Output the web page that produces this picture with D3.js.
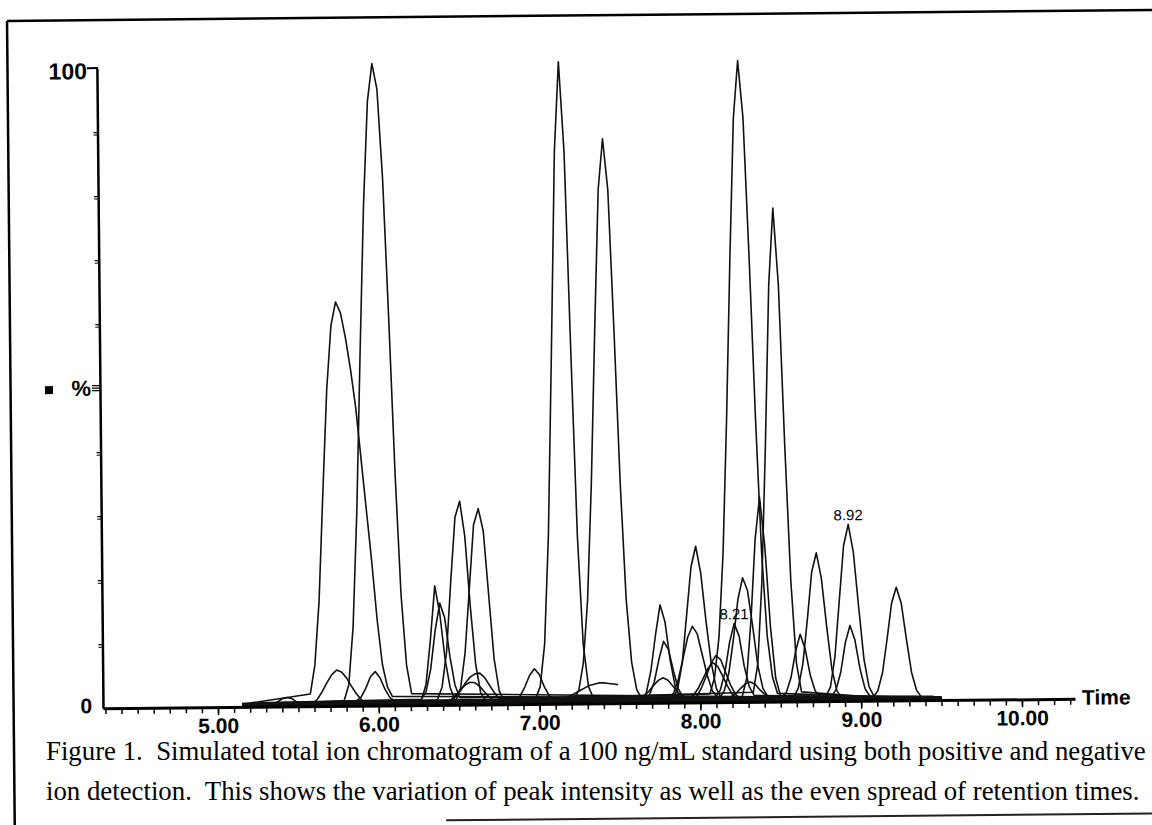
<!DOCTYPE html>
<html>
<head>
<meta charset="utf-8">
<script src="https://cdn.jsdelivr.net/npm/d3@7"></script>
<style>
  body { margin: 0; background: #fff; }
  svg { display: block; }
</style>
</head>
<body>
<div id="chart"></div>
<script>
// SCAN DATA (intensity in %, one scan every 0.03 min)
const scanStep = 0.03;

// first scan time of each peak
const peakStart = [
  5.31, 5.575, 5.59, 5.785, 5.86, 6.265, 6.265, 6.365, 6.48, 6.45, 6.42,
  6.85, 6.975, 7.215, 7.16, 7.635, 7.655, 7.62, 7.83, 7.805, 7.95, 7.93,
  8.095, 8.06, 8.12, 8.26, 8.33, 8.505, 8.58, 8.78, 8.815, 9.075, 8.19
];

// scans of each peak
const peakScans = [
  [0, 0.2, 0.5, 1.0, 1.2, 1.0, 0.5, 0.2, 0],
  [1.5, 6, 16, 33, 49, 59, 62.7, 61, 57, 52, 46, 38, 30, 22, 13, 6, 2.5, 1],
  [0.3, 1.0, 2.2, 3.6, 4.8, 5.5, 5.2, 4.3, 3.0, 1.8, 0.9, 0.3],
  [0.5, 3, 12, 30, 55, 78, 94, 100, 96, 82, 60, 36, 17, 6, 1.5],
  [0.2, 0.8, 2.2, 4.0, 4.8, 3.8, 2.0, 0.7, 0.2],
  [0.5, 3, 10, 18.4, 14, 7, 2.5, 0.5],
  [0.3, 1.5, 5, 11, 15.3, 13, 7, 2.5, 0.5],
  [0.5, 2.5, 8, 19, 29, 31.5, 26, 15, 6, 1.5, 0.3],
  [0.5, 2.5, 8, 18, 28, 30.5, 27, 17, 7, 2, 0.4],
  [0.3, 0.9, 1.8, 3.0, 3.9, 4.4, 4.5, 3.8, 2.6, 1.4, 0.5],
  [0.2, 0.6, 1.3, 2.2, 2.9, 3.3, 3.2, 2.6, 1.7, 0.9, 0.3],
  [0.2, 0.8, 2.2, 4.0, 5.0, 4.1, 2.2, 0.8, 0.2],
  [0.5, 2.4, 9, 26, 55, 86, 100, 86, 55, 26, 9, 2.4, 0.5],
  [0.5, 1.9, 6.2, 16, 34, 58, 80, 88, 80, 58, 34, 16, 6.2, 1.9, 0.5],
  [0.4, 0.8, 1.2, 1.6, 2.0, 2.4, 2.6, 2.8, 2.8, 2.7, 2.6, 2.5],
  [0.3, 1.5, 5, 10.5, 15.2, 12.5, 6.5, 2.4, 0.6],
  [0.2, 1, 3, 6.5, 9.3, 8, 4.6, 1.8, 0.5],
  [0.2, 0.5, 1.2, 2.1, 2.9, 3.3, 2.9, 2.0, 1.0, 0.4, 0.2],
  [0.4, 2, 6, 13.5, 21, 24.2, 20, 12.5, 6, 2, 0.4],
  [0.3, 1.1, 3.3, 6.5, 9.8, 11.5, 10.3, 7, 3.8, 1.4, 0.4],
  [0.3, 0.9, 2.3, 4.1, 6.1, 7.2, 6.5, 4.5, 2.5, 1.1, 0.4],
  [0.3, 0.9, 2, 3.5, 5, 5.9, 5.3, 3.8, 2.2, 0.9, 0.3],
  [0.3, 1.4, 4.2, 8.8, 11.8, 9.8, 5.1, 1.9, 0.5],
  [1.1, 3.7, 10, 23, 44, 69, 91, 100, 91, 69, 44, 23, 10, 3.7, 1.1],
  [0.3, 1.4, 4.3, 9.5, 15.7, 19, 17, 11.4, 5.2, 1.7, 0.4],
  [0.5, 3.4, 12.6, 25, 31.7, 24, 11.6, 3.4, 0.5],
  [1.4, 5.9, 18.7, 40, 65, 77, 65, 40, 18.7, 5.9, 1.4],
  [0.2, 0.9, 3.2, 7.3, 10, 7.7, 3.6, 1.1, 0.2],
  [0.4, 1.9, 5.7, 12.5, 20, 23, 19, 11.5, 4.8, 1.4, 0.3],
  [0.4, 1.9, 6.7, 15.4, 24, 27.3, 23, 14.4, 6.2, 1.9, 0.4],
  [0.3, 1.4, 4.1, 8.7, 11.4, 9.1, 4.6, 1.5, 0.3],
  [0.3, 1.4, 4.2, 9.4, 15, 17.5, 15, 9.4, 4.2, 1.4, 0.3],
  [0.2, 0.7, 1.5, 2.2, 2.5, 2.2, 1.3, 0.6, 0.2]
];

// where each ion trace begins / ends and its baseline level
const traceStart = [
  5.15, 5.15, 5.2, 5.3, 5.15, 5.4, 5.25, 5.5, 5.35, 5.15, 5.6,
  5.45, 5.2, 5.3, 5.65, 5.15, 5.55, 5.4, 5.2, 5.3, 5.5, 5.7,
  5.15, 5.25, 5.35, 5.6, 5.45, 5.3, 5.2, 5.5, 5.4, 5.35, 5.6
];
const traceEnd = [
  9.5, 9.3, 9.45, 9.4, 9.5, 9.2, 9.35, 9.5, 9.1, 9.45, 9.3,
  9.4, 9.5, 9.25, 7.49, 9.4, 9.5, 9.15, 9.45, 9.3, 9.5, 9.35,
  9.4, 9.5, 9.2, 9.45, 9.3, 9.5, 9.4, 9.5, 9.35, 9.5, 9.45
];
const traceOffset = [
  0.2, 0.4, 0.1, 0.3, 0.5, 0.2, 0.6, 0.3, 0.1, 0.4, 0.2,
  0.5, 0.3, 0.2, 0.4, 0.1, 0.3, 0.6, 0.2, 0.4, 0.1, 0.3,
  0.5, 0.2, 0.4, 0.3, 0.1, 0.5, 0.2, 0.3, 0.4, 0.2, 0.6
];

// labelled peaks
const peakLabels = ["8.21", "8.92"];
const labelPeak = [22, 29];

// axes
const xTickValues = [5, 6, 7, 8, 9, 10];
const xTickLabels = ["5.00", "6.00", "7.00", "8.00", "9.00", "10.00"];
const yTickValues = [10, 20, 30, 40, 60, 70, 80, 90];

const captionLines = [
  "Figure 1.  Simulated total ion chromatogram of a 100 ng/mL standard using both positive and negative",
  "ion detection.  This shows the variation of peak intensity as well as the even spread of retention times."
];

// SVG
const w = 1152;
const h = 825;
const sansFont = "'Liberation Sans', Arial, sans-serif";
const serifFont = "'Liberation Serif', 'Times New Roman', serif";

const svg = d3
  .select("#chart")
  .append("svg")
  .attr("width", w)
  .attr("height", h);

// the scanned page sits a little crooked
const page = svg.append("g").attr("transform", "rotate(-0.55,576,703.6)");

const x = d3.scaleLinear().domain([4.285, 10.33]).range([103, 1075]);
const y = d3.scaleLinear().domain([0, 100]).range([703.6, 63.5]);

// BORDER
page.append("line")
  .attr("x1", 13.6).attr("y1", 15.5).attr("x2", 13.6).attr("y2", 900)
  .attr("stroke", "#000").attr("stroke-width", 2.5);
page.append("line")
  .attr("x1", 13.6).attr("y1", 15.5).attr("x2", 1220).attr("y2", 15.5)
  .attr("stroke", "#000").attr("stroke-width", 2.5);
page.append("line")
  .attr("x1", 445).attr("y1", 819).attr("x2", 1220).attr("y2", 819)
  .attr("stroke", "#222").attr("stroke-width", 2);

// TRACES
const line = d3.line().x((d) => x(d[0])).y((d) => y(d[1]));

const traces = peakStart.map((t0, i) => {
  const off = traceOffset[i];
  const pts = [[traceStart[i], off]];
  peakScans[i].forEach((v, k) => pts.push([t0 + k * scanStep, v + off]));
  const last = t0 + (peakScans[i].length - 1) * scanStep;
  if (traceEnd[i] > last) pts.push([traceEnd[i], off]);
  return pts;
});

page.append("g")
  .selectAll("path")
  .data(traces)
  .enter()
  .append("path")
  .attr("d", line)
  .attr("fill", "none")
  .attr("stroke", "#111")
  .attr("stroke-width", 1.6)
  .attr("stroke-linejoin", "round");

// PEAK LABELS
labelPeak.forEach((p, i) => {
  const scans = peakScans[p];
  const k = d3.maxIndex(scans);
  page.append("text")
    .attr("x", x(peakStart[p] + k * scanStep))
    .attr("y", y(scans[k] + traceOffset[p]) - 4)
    .attr("text-anchor", "middle")
    .style("font-family", sansFont)
    .style("font-size", "15px")
    .text(peakLabels[i]);
});

// X AXIS
const xMinor = page.append("g")
  .attr("transform", "translate(0," + y(0) + ")")
  .call(
    d3.axisBottom(x)
      .tickValues(d3.range(43, 104).map((d) => d / 10))
      .tickSize(6)
      .tickSizeOuter(0)
      .tickFormat("")
  );
xMinor.select(".domain").attr("stroke-width", 3).attr("stroke", "#000");
xMinor.selectAll(".tick line").attr("stroke-width", 1.5).attr("stroke", "#000");

const xMajor = page.append("g")
  .attr("transform", "translate(0," + y(0) + ")")
  .call(
    d3.axisBottom(x)
      .tickValues(xTickValues)
      .tickSize(8)
      .tickSizeOuter(0)
      .tickFormat((d, i) => xTickLabels[i])
  );
xMajor.select(".domain").remove();
xMajor.selectAll(".tick line").attr("stroke-width", 1.5).attr("stroke", "#000");
xMajor.selectAll(".tick text")
  .attr("y", 26)
  .attr("dy", 0)
  .attr("fill", "#000")
  .style("font-family", sansFont)
  .style("font-size", "21px")
  .style("font-weight", "bold");

page.append("text")
  .attr("x", x.range()[1] + 7)
  .attr("y", y(0) + 6)
  .style("font-family", sansFont)
  .style("font-size", "21px")
  .style("font-weight", "bold")
  .text("Time");

// Y AXIS
const yAxis = page.append("g")
  .attr("transform", "translate(" + x.range()[0] + ",0)")
  .call(
    d3.axisLeft(y)
      .tickValues(yTickValues)
      .tickSize(4)
      .tickSizeOuter(0)
      .tickFormat("")
  );
yAxis.select(".domain").attr("stroke-width", 2.5).attr("stroke", "#000");
yAxis.selectAll(".tick line").attr("stroke-width", 1.2).attr("stroke", "#000");

// double marks on the small ticks
yAxis.selectAll(".tick")
  .append("line")
  .attr("x1", -4).attr("x2", 0).attr("y1", 2.5).attr("y2", 2.5)
  .attr("stroke", "#000").attr("stroke-width", 1);

// 100 tick (top hook)
page.append("line")
  .attr("x1", x.range()[0] - 10).attr("x2", x.range()[0] + 1)
  .attr("y1", y(100)).attr("y2", y(100))
  .attr("stroke", "#000").attr("stroke-width", 2);

// triple mark at 50
[-2.5, 0, 2.5].forEach((d) => {
  page.append("line")
    .attr("x1", x.range()[0] - 8).attr("x2", x.range()[0])
    .attr("y1", y(50) + d).attr("y2", y(50) + d)
    .attr("stroke", "#000").attr("stroke-width", 1.3);
});

page.append("text")
  .attr("x", x.range()[0] - 10)
  .attr("y", y(100) + 11)
  .attr("text-anchor", "end")
  .style("font-family", sansFont)
  .style("font-size", "23px")
  .style("font-weight", "bold")
  .text("100");

page.append("text")
  .attr("x", x.range()[0] - 11)
  .attr("y", y(0) + 5)
  .attr("text-anchor", "end")
  .style("font-family", sansFont)
  .style("font-size", "21px")
  .style("font-weight", "bold")
  .text("0");

page.append("text")
  .attr("x", x.range()[0] - 9)
  .attr("y", y(50) + 7.5)
  .attr("text-anchor", "end")
  .style("font-family", sansFont)
  .style("font-size", "22px")
  .style("font-weight", "bold")
  .text("%");

page.append("rect")
  .attr("x", 48).attr("y", y(50) - 2.5)
  .attr("width", 8).attr("height", 8)
  .attr("fill", "#000");

// CAPTION (kept level so the lines stay clear of the tick labels)
const capLeft = 46;
const capRight = 1146;
const capTexts = svg.append("g")
  .selectAll("text")
  .data(captionLines)
  .enter()
  .append("text")
  .attr("x", capLeft)
  .attr("y", (d, i) => 760 + i * 40)
  .style("font-family", serifFont)
  .style("font-size", "24px")
  .style("white-space", "pre")
  .attr("fill", "#000")
  .text((d) => d);

const firstLen = capTexts.node().getComputedTextLength();
const fs = (24 * (capRight - capLeft)) / firstLen;
capTexts.style("font-size", fs + "px");
</script>
</body>
</html>
